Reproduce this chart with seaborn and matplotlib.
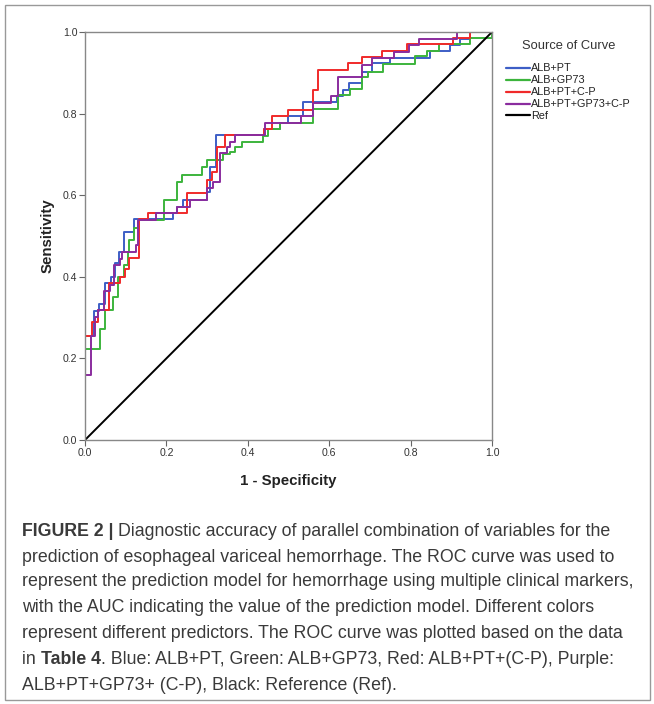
import numpy as np
import pandas as pd
import matplotlib
matplotlib.use("Agg")
import matplotlib.pyplot as plt
from matplotlib.patches import Rectangle
import seaborn as sns

# ROC curves: points where each curve rises (1 - specificity, sensitivity)
blue_x = [0, 0.022, 0.035, 0.049, 0.063, 0.074, 0.084, 0.097, 0.120, 0.217, 0.225, 0.242,
          0.299, 0.307, 0.322, 0.44, 0.48, 0.50, 0.536, 0.618, 0.635, 0.648, 0.68, 0.704,
          0.75, 0.848, 0.897, 0.921, 0.946]
blue_y = [0.254, 0.317, 0.333, 0.384, 0.399, 0.433, 0.461, 0.509, 0.542, 0.556, 0.571, 0.588,
          0.609, 0.670, 0.748, 0.762, 0.778, 0.794, 0.829, 0.843, 0.857, 0.874, 0.903, 0.923,
          0.937, 0.954, 0.968, 0.984, 1.0]

green_x = [0, 0.038, 0.049, 0.070, 0.082, 0.095, 0.105, 0.108, 0.12, 0.13, 0.194, 0.225,
           0.238, 0.287, 0.299, 0.34, 0.356, 0.369, 0.385, 0.437, 0.45, 0.48, 0.561, 0.622,
           0.651, 0.68, 0.695, 0.733, 0.81, 0.84, 0.87, 0.946, 1.0]
green_y = [0.222, 0.271, 0.318, 0.351, 0.40, 0.43, 0.46, 0.49, 0.52, 0.54, 0.588, 0.633,
           0.65, 0.670, 0.686, 0.70, 0.707, 0.719, 0.730, 0.746, 0.762, 0.778, 0.812, 0.846,
           0.860, 0.89, 0.903, 0.921, 0.94, 0.954, 0.97, 0.985, 1.0]

red_x = [0, 0.018, 0.033, 0.06, 0.086, 0.098, 0.109, 0.133, 0.156, 0.25, 0.299, 0.311,
         0.324, 0.344, 0.44, 0.46, 0.50, 0.561, 0.573, 0.646, 0.68, 0.729, 0.79, 0.905, 0.946]
red_y = [0.255, 0.29, 0.318, 0.384, 0.40, 0.42, 0.445, 0.542, 0.556, 0.605, 0.637, 0.658,
         0.719, 0.748, 0.762, 0.794, 0.81, 0.858, 0.907, 0.923, 0.938, 0.954, 0.97, 0.985, 1.0]

purple_x = [0, 0.014, 0.025, 0.033, 0.047, 0.062, 0.072, 0.085, 0.09, 0.125, 0.13, 0.175,
            0.225, 0.258, 0.299, 0.314, 0.332, 0.348, 0.356, 0.369, 0.442, 0.53, 0.56, 0.605,
            0.622, 0.68, 0.704, 0.76, 0.796, 0.82, 0.913]
purple_y = [0.159, 0.255, 0.302, 0.318, 0.365, 0.381, 0.429, 0.444, 0.46, 0.477, 0.54, 0.556,
            0.571, 0.588, 0.617, 0.633, 0.703, 0.719, 0.731, 0.748, 0.776, 0.794, 0.826, 0.843,
            0.889, 0.92, 0.937, 0.952, 0.968, 0.984, 1.0]

ref_x = [0, 1]
ref_y = [0, 1]

names = ["ALB+PT", "ALB+GP73", "ALB+PT+C-P", "ALB+PT+GP73+C-P", "Ref"]
colors = ["#3d5ec6", "#3cb43c", "#f02a2a", "#8a2c9e", "#000000"]


def step_path(xs, ys):
    px, py = [0.0], [0.0]
    for x, y in zip(xs, ys):
        px += [x, x]
        py += [py[-1], y]
    if px[-1] < 1:
        px.append(1.0)
        py.append(py[-1])
    return px, py


rows = []
for nm, xs, ys in zip(names[:4], [blue_x, green_x, red_x, purple_x],
                      [blue_y, green_y, red_y, purple_y]):
    px, py = step_path(xs, ys)
    for i, (a, b) in enumerate(zip(px, py)):
        rows.append((nm, i, a, b))
for i, (a, b) in enumerate(zip(ref_x, ref_y)):
    rows.append(("Ref", i, a, b))
df = pd.DataFrame(rows, columns=["curve", "order", "fpr", "tpr"])

sns.set_style("white")
plt.rcParams["font.family"] = ["Liberation Sans", "DejaVu Sans"]

W, H = 654, 704
fig = plt.figure(figsize=(W / 100, H / 100), dpi=100)
ax = fig.add_axes([85 / W, 1 - 440 / H, (492 - 85) / W, (440 - 32) / H])

sns.lineplot(data=df, x="fpr", y="tpr", hue="curve", hue_order=names,
             palette=colors, sort=False, estimator=None, units="curve",
             lw=1.4, ax=ax, legend=False)

ax.set_xlim(0, 1)
ax.set_ylim(0, 1)
ticks = [0.0, 0.2, 0.4, 0.6, 0.8, 1.0]
ax.set_xticks(ticks)
ax.set_yticks(ticks)
ax.set_xticklabels(["%.1f" % t for t in ticks])
ax.set_yticklabels(["%.1f" % t for t in ticks])
ax.tick_params(axis="both", bottom=True, left=True, direction="out", length=4, width=0.8,
               color="#666666", labelsize=7.6, labelcolor="#333333", pad=1.5)
for s in ax.spines.values():
    s.set_color("#888888")
    s.set_linewidth(1.0)
ax.set_xlabel("1 - Specificity", fontsize=10.8, fontweight="bold", color="#222222", labelpad=12)
ax.set_ylabel("Sensitivity", fontsize=10.8, fontweight="bold", color="#222222", labelpad=6)

handles = [plt.Line2D([], [], color=c, lw=1.6) for c in colors]
leg = fig.legend(handles, names, title="Source of Curve", loc="upper left",
                 bbox_to_anchor=(502 / W, 1 - 36 / H), frameon=False,
                 fontsize=7.8, title_fontsize=9.3, handlelength=2.2,
                 handletextpad=0.1, labelspacing=0.18, borderaxespad=0)
leg.get_title().set_color("#333333")
leg._legend_box.sep = 8
for t in leg.get_texts():
    t.set_color("#222222")

# outer frame
fig.patches.append(Rectangle((5 / W, 1 - 700 / H), 645 / W, 695 / H, transform=fig.transFigure,
                             fill=False, edgecolor="#999999", lw=1.0))

# caption
cap_lines = [
    [("FIGURE 2 | ", "bold"), ("Diagnostic accuracy of parallel combination of variables for the", "normal")],
    [("prediction of esophageal variceal hemorrhage. The ROC curve was used to", "normal")],
    [("represent the prediction model for hemorrhage using multiple clinical markers,", "normal")],
    [("with the AUC indicating the value of the prediction model. Different colors", "normal")],
    [("represent different predictors. The ROC curve was plotted based on the data", "normal")],
    [("in ", "normal"), ("Table 4", "bold"),
     (". Blue: ALB+PT, Green: ALB+GP73, Red: ALB+PT+(C-P), Purple:", "normal")],
    [("ALB+PT+GP73+ (C-P), Black: Reference (Ref).", "normal")],
]
cap_y = [531, 557, 582, 608, 633, 659, 685]
renderer = fig.canvas.get_renderer()
for parts, yy in zip(cap_lines, cap_y):
    x0 = 22
    for txt, wt in parts:
        t = fig.text(x0 / W, 1 - yy / H, txt, fontsize=12.8, fontweight=wt,
                     family=["Liberation Sans", "DejaVu Sans"], color="#3a3a3a",
                     va="center", ha="left")
        x0 += t.get_window_extent(renderer).width

fig.savefig("out.png", dpi=100)
